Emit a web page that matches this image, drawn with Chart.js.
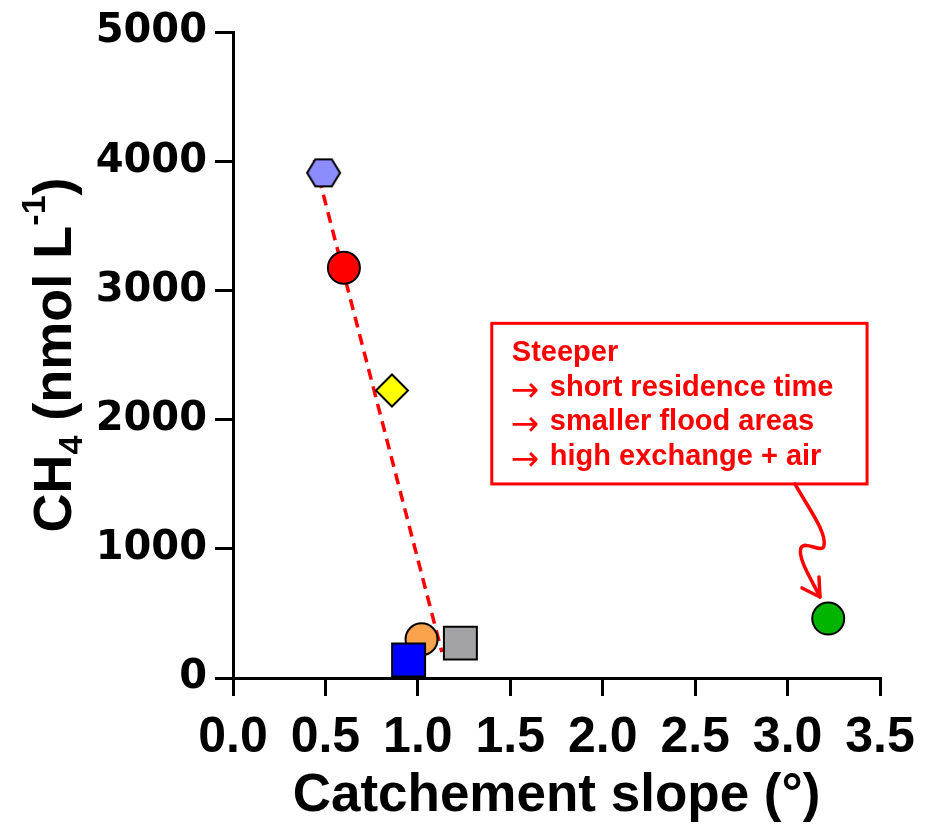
<!DOCTYPE html>
<html>
<head>
<meta charset="utf-8">
<script src="https://cdn.jsdelivr.net/npm/chart.js@4.4.1/dist/chart.umd.min.js"></script>
<style>
    html, body { margin: 0; padding: 0; background: #fff; }
    #wrap { width: 935px; height: 831px; }
</style>
</head>
<body>
<div id="wrap"><canvas id="chart"></canvas></div>
<script>
// one marker per catchment
const SITES = ['hexagon', 'red circle', 'yellow diamond', 'orange circle', 'blue square', 'grey square', 'green circle'];
const SLOPE = [0.49, 0.60, 0.86, 1.02, 0.95, 1.23, 3.22];
const CH4 = [3910, 3175, 2225, 300, 140, 270, 460];

// dashed trend line end points
const FIT_SLOPE = [0.44, 1.13];
const FIT_CH4 = [4010, 200];

const X_TICKS = [0, 0.5, 1, 1.5, 2, 2.5, 3, 3.5];
const Y_TICKS = [0, 1000, 2000, 3000, 4000, 5000];

const NOTE_LINES = ['Steeper', 'short residence time', 'smaller flood areas', 'high exchange + air'];
const NOTE_BOX_X = [1.40, 3.43];
const NOTE_BOX_Y = [2745, 1502];
const NOTE_ARROW_X = 3.04;

const FONT = "'Liberation Sans', Arial, sans-serif";

function hexagon(w, h, fill) {
    const c = document.createElement('canvas');
    c.width = w + 4;
    c.height = h + 4;
    const g = c.getContext('2d');
    const cx = c.width / 2, cy = c.height / 2;
    g.beginPath();
    g.moveTo(cx - w / 2, cy);
    g.lineTo(cx - w / 4, cy - h / 2);
    g.lineTo(cx + w / 4, cy - h / 2);
    g.lineTo(cx + w / 2, cy);
    g.lineTo(cx + w / 4, cy + h / 2);
    g.lineTo(cx - w / 4, cy + h / 2);
    g.closePath();
    g.fillStyle = fill;
    g.fill();
    g.lineWidth = 2;
    g.strokeStyle = '#000';
    g.stroke();
    return c;
}

const POINT_STYLES = [hexagon(33, 27, '#8c8cff'), 'circle', 'rectRot', 'circle', 'rect', 'rect', 'circle'];
const POINT_COLORS = ['#8c8cff', '#ff0000', '#ffff00', '#fba34c', '#0000ff', '#a3a3a6', '#00b400'];
const POINT_RADII = [16, 16, 16, 16, 23.3, 23.3, 16];

const yTitle = {
    id: 'yTitle',
    afterDraw(chart) {
        const ctx = chart.ctx;
        const area = chart.chartArea;
        const parts = [
            {t: 'CH', s: 54, dy: 0},
            {t: '4', s: 34, dy: 11},
            {t: ' (nmol L', s: 54, dy: 0},
            {t: '-1', s: 34, dy: -26},
            {t: ')', s: 54, dy: 0}
        ];
        ctx.save();
        ctx.translate(71, (area.top + area.bottom) / 2);
        ctx.rotate(-Math.PI / 2);
        ctx.fillStyle = '#000';
        ctx.textBaseline = 'alphabetic';
        let total = 0;
        parts.forEach(p => {
            ctx.font = 'bold ' + p.s + 'px ' + FONT;
            p.w = ctx.measureText(p.t).width;
            total += p.w;
        });
        let x = -total / 2;
        parts.forEach(p => {
            ctx.font = 'bold ' + p.s + 'px ' + FONT;
            ctx.fillText(p.t, x, p.dy);
            x += p.w;
        });
        ctx.restore();
    }
};

const note = {
    id: 'note',
    afterDraw(chart) {
        const ctx = chart.ctx;
        const xs = chart.scales.x, ys = chart.scales.y;
        const x1 = xs.getPixelForValue(NOTE_BOX_X[0]);
        const x2 = xs.getPixelForValue(NOTE_BOX_X[1]);
        const y1 = ys.getPixelForValue(NOTE_BOX_Y[0]);
        const y2 = ys.getPixelForValue(NOTE_BOX_Y[1]);
        ctx.save();
        ctx.fillStyle = '#fff';
        ctx.fillRect(x1, y1, x2 - x1, y2 - y1);
        ctx.strokeStyle = '#ff0000';
        ctx.lineWidth = 3;
        ctx.strokeRect(x1, y1, x2 - x1, y2 - y1);

        ctx.fillStyle = '#ff0000';
        ctx.textBaseline = 'alphabetic';
        NOTE_LINES.forEach((line, i) => {
            const by = y1 + 38 + i * 34.5;
            if (i === 0) {
                ctx.font = 'bold 29px ' + FONT;
                ctx.fillText(line, x1 + 20, by);
            } else {
                ctx.font = '34px ' + "'DejaVu Sans', sans-serif";
                ctx.fillText('\u2192', x1 + 19, by + 5);
                ctx.font = 'bold 29px ' + FONT;
                ctx.fillText(line, x1 + 58, by);
            }
        });

        // wiggly arrow down to the green point
        const ax = xs.getPixelForValue(NOTE_ARROW_X);
        const ay = y2;
        ctx.strokeStyle = '#ff0000';
        ctx.lineWidth = 3.5;
        ctx.lineCap = 'round';
        ctx.lineJoin = 'round';
        ctx.beginPath();
        ctx.moveTo(ax, ay);
        ctx.bezierCurveTo(ax + 12, ay + 22, ax + 32, ay + 48, ax + 29, ay + 62);
        ctx.bezierCurveTo(ax + 27, ay + 70, ax + 10, ay + 56, ax + 6, ay + 64);
        ctx.bezierCurveTo(ax + 2, ay + 74, ax + 18, ay + 98, ax + 25, ay + 113);
        ctx.stroke();
        ctx.beginPath();
        ctx.moveTo(ax + 7, ay + 104);
        ctx.lineTo(ax + 25, ay + 113);
        ctx.lineTo(ax + 24, ay + 93);
        ctx.stroke();
        ctx.restore();
    }
};

new Chart(document.getElementById('chart'), {
    type: 'scatter',
    data: {
        datasets: [
            {
                label: 'Catchments',
                data: SLOPE.map((x, i) => ({x: x, y: CH4[i]})),
                pointStyle: POINT_STYLES,
                backgroundColor: POINT_COLORS,
                pointRadius: POINT_RADII,
                borderColor: '#000',
                borderWidth: 2,
                order: 0
            },
            {
                type: 'line',
                label: 'Trend',
                data: FIT_SLOPE.map((x, i) => ({x: x, y: FIT_CH4[i]})),
                borderColor: '#ff0000',
                borderWidth: 3.5,
                borderDash: [11, 7],
                pointRadius: 0,
                fill: false,
                order: 1
            }
        ]
    },
    options: {
        responsive: true,
        maintainAspectRatio: false,
        animation: false,
        layout: {
            padding: {top: 29, right: 55, left: 0, bottom: 0}
        },
        plugins: {
            legend: {display: false},
            tooltip: {enabled: false}
        },
        scales: {
            x: {
                type: 'linear',
                min: 0,
                max: 3.5,
                afterBuildTicks: s => { s.ticks = X_TICKS.map(v => ({value: v})); },
                afterFit: s => { s.height = 153; },
                ticks: {
                    color: '#000',
                    padding: 12,
                    maxRotation: 0,
                    font: {family: FONT, size: 50, weight: 'bold'},
                    callback: v => Number(v).toFixed(1)
                },
                grid: {
                    drawOnChartArea: false,
                    drawTicks: true,
                    tickLength: 18,
                    lineWidth: 3,
                    color: '#000'
                },
                border: {display: true, color: '#000', width: 3},
                title: {
                    display: true,
                    text: 'Catchement slope (\u00b0)',
                    color: '#000',
                    font: {family: FONT, size: 53, weight: 'bold'},
                    padding: {top: 0, bottom: 3}
                }
            },
            y: {
                type: 'linear',
                min: 0,
                max: 5000,
                afterBuildTicks: s => { s.ticks = Y_TICKS.map(v => ({value: v})); },
                afterFit: s => { s.width = 233; },
                ticks: {
                    color: '#000',
                    padding: 8,
                    font: {family: "'DejaVu Sans', sans-serif", size: 40, weight: 'bold'},
                    callback: v => String(v)
                },
                grid: {
                    drawOnChartArea: false,
                    drawTicks: true,
                    tickLength: 18,
                    lineWidth: 3,
                    color: '#000'
                },
                border: {display: true, color: '#000', width: 3}
            }
        }
    },
    plugins: [yTitle, note]
});
</script>
</body>
</html>
